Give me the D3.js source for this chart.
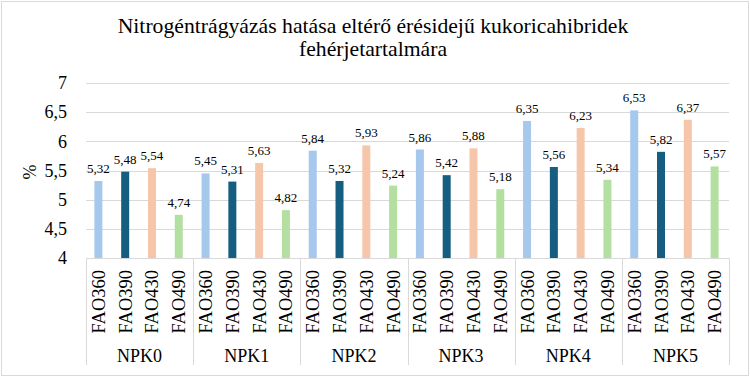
<!DOCTYPE html>
<html>
<head>
<script src="https://cdnjs.cloudflare.com/ajax/libs/d3/7.8.5/d3.min.js"></script>
</head>
<body style="margin:0">
<script>
// data
var groups = ['NPK0', 'NPK1', 'NPK2', 'NPK3', 'NPK4', 'NPK5'];
var hybrids = ['FAO360', 'FAO390', 'FAO430', 'FAO490'];
var fao360 = [5.32, 5.45, 5.84, 5.86, 6.35, 6.53];
var fao390 = [5.48, 5.31, 5.32, 5.42, 5.56, 5.82];
var fao430 = [5.54, 5.63, 5.93, 5.88, 6.23, 6.37];
var fao490 = [4.74, 4.82, 5.24, 5.18, 5.34, 5.57];
var yTicks = [4, 4.5, 5, 5.5, 6, 6.5, 7];
var colors = ['#a5c8ec', '#165e80', '#f6c6aa', '#b3e0a0'];

var series = [fao360, fao390, fao430, fao490];
var data = [];
groups.forEach(function(g, gi) {
  hybrids.forEach(function(h, hi) {
    data.push({group: g, hybrid: h, hi: hi, value: series[hi][gi]});
  });
});

var FONT = "Times New Roman";

var W = 750, H = 378;
var margin = {top: 83, right: 21, bottom: 120, left: 86},
  width = W - margin.left - margin.right,
  height = H - margin.top - margin.bottom;

var svg = d3.select("body")
  .append("svg")
  .attr("width", W)
  .attr("height", H)
  .attr("font-family", FONT);

// outer border
svg.append("rect")
  .attr("x", 1.5).attr("y", 1.5)
  .attr("width", W - 3).attr("height", H - 4)
  .attr("fill", "#fff")
  .attr("stroke", "#d9d9d9");

// title
svg.append("text")
  .attr("x", 373).attr("y", 33)
  .attr("text-anchor", "middle")
  .attr("font-family", FONT)
  .attr("font-size", 21.7)
  .text("Nitrogéntrágyázás hatása eltérő érésidejű kukoricahibridek");
svg.append("text")
  .attr("x", 373).attr("y", 56)
  .attr("text-anchor", "middle")
  .attr("font-family", FONT)
  .attr("font-size", 21.7)
  .text("fehérjetartalmára");

var g = svg.append("g")
  .attr("transform", "translate(" + margin.left + "," + margin.top + ")");

// scales
var x0 = d3.scaleBand().domain(groups).range([0, width]);
var x1 = d3.scaleBand().domain(hybrids).range([0, x0.bandwidth()]);
var y = d3.scaleLinear().domain([4, 7]).range([height, 0]);
var fmt = function(v) { return d3.format(".2f")(v).replace('.', ','); };
var fmtTick = function(v) { return String(v).replace('.', ','); };

// gridlines
g.selectAll(".grid")
  .data(yTicks.slice(1))
  .enter().append("line")
  .attr("x1", 0).attr("x2", width)
  .attr("y1", function(d) { return Math.round(y(d)) + 0.5; })
  .attr("y2", function(d) { return Math.round(y(d)) + 0.5; })
  .attr("stroke", "#d9d9d9")
  .attr("stroke-width", 1);

// y axis labels
g.selectAll(".ytick")
  .data(yTicks)
  .enter().append("text")
  .attr("x", -19)
  .attr("y", function(d) { return y(d); })
  .attr("dy", "0.35em")
  .attr("text-anchor", "end")
  .attr("font-family", FONT)
  .attr("font-size", 18)
  .text(fmtTick);

svg.append("text")
  .attr("transform", "translate(36,172) rotate(-90)")
  .attr("text-anchor", "middle")
  .attr("font-family", FONT)
  .attr("font-size", 18)
  .text("%");

// bars
var barW = 8;
var cx = function(d) { return x0(d.group) + x1(d.hybrid) + x1.bandwidth() / 2 - 1; };
g.selectAll(".bar")
  .data(data)
  .enter().append("rect")
  .attr("x", function(d) { return cx(d) - barW / 2; })
  .attr("y", function(d) { return y(d.value); })
  .attr("width", barW)
  .attr("height", function(d) { return height - y(d.value); })
  .attr("fill", function(d) { return colors[d.hi]; });

// value labels
g.selectAll(".lbl")
  .data(data)
  .enter().append("text")
  .attr("x", cx)
  .attr("y", function(d) { return y(d.value) - 8; })
  .attr("text-anchor", "middle")
  .attr("font-family", FONT)
  .attr("font-size", 13)
  .text(function(d) { return fmt(d.value); });

// category axis line
g.append("line")
  .attr("x1", 0).attr("x2", width)
  .attr("y1", height + 0.5).attr("y2", height + 0.5)
  .attr("stroke", "#d9d9d9");

// group separators
var seps = groups.map(function(d) { return x0(d); }).concat([width]);
g.selectAll(".sep")
  .data(seps)
  .enter().append("line")
  .attr("x1", function(d) { return Math.round(d) + 0.5; })
  .attr("x2", function(d) { return Math.round(d) + 0.5; })
  .attr("y1", height)
  .attr("y2", height + 107)
  .attr("stroke", "#d9d9d9");

// hybrid labels (rotated)
g.selectAll(".hyb")
  .data(data)
  .enter().append("text")
  .attr("transform", function(d) {
    return "translate(" + cx(d) + "," + (height + 12) + ") rotate(-90)";
  })
  .attr("text-anchor", "end")
  .attr("dy", "0.35em")
  .attr("font-family", FONT)
  .attr("font-size", 18.5)
  .text(function(d) { return d.hybrid; });

// group labels
g.selectAll(".grp")
  .data(groups)
  .enter().append("text")
  .attr("x", function(d) { return x0(d) + x0.bandwidth() / 2; })
  .attr("y", height + 104)
  .attr("text-anchor", "middle")
  .attr("font-family", FONT)
  .attr("font-size", 18)
  .text(function(d) { return d; });
</script>
</body>
</html>
